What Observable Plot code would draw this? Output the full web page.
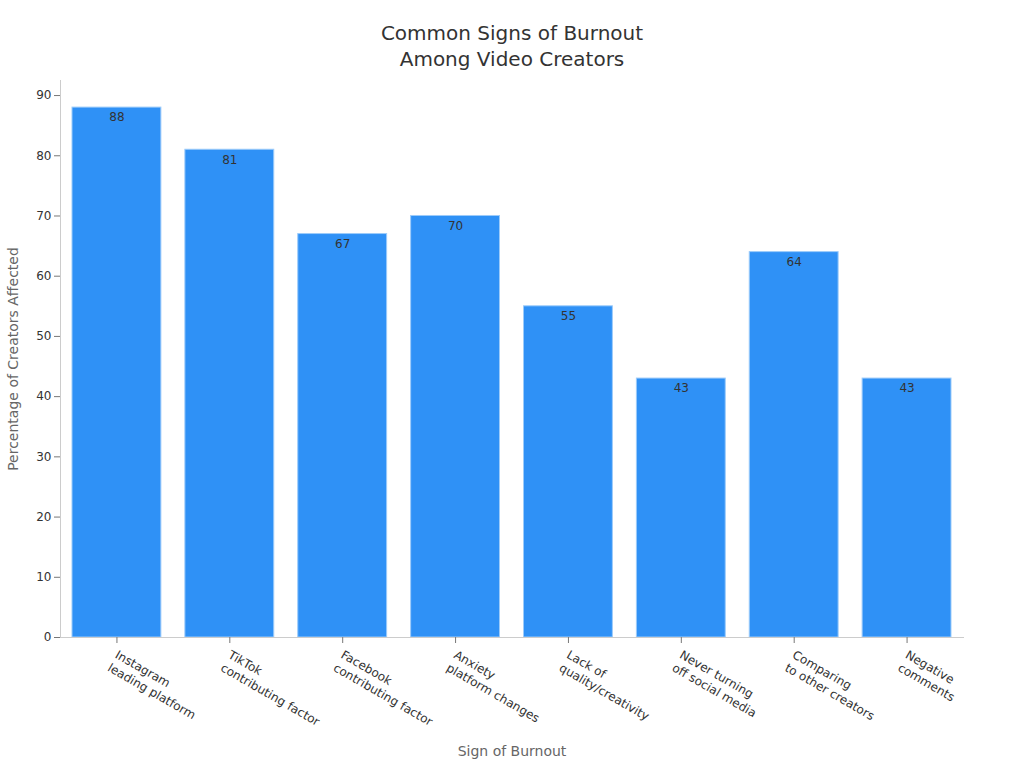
<!DOCTYPE html>
<html>
<head>
<meta charset="utf-8">
<script src="https://cdn.jsdelivr.net/npm/d3@7"></script>
<script src="https://cdn.jsdelivr.net/npm/@observablehq/plot@0.6"></script>
<style>
  html, body { margin: 0; padding: 0; background: #fff; }
  body { width: 1024px; height: 768px; overflow: hidden; font-family: "DejaVu Sans", sans-serif; }
  #title { height: 70px; box-sizing: border-box; padding-top: 20px; text-align: center; font-size: 20px; line-height: 26px; color: #333; }
</style>
</head>
<body>
<div id="title">Common Signs of Burnout<br>Among Video Creators</div>
<div id="chart"></div>
<script>
const categories = [
  "Instagram\nleading platform",
  "TikTok\ncontributing factor",
  "Facebook\ncontributing factor",
  "Anxiety\nplatform changes",
  "Lack of\nquality/creativity",
  "Never turning\noff social media",
  "Comparing\nto other creators",
  "Negative\ncomments"
];
const values = [88, 81, 67, 70, 55, 43, 64, 43];
const yTicks = [0, 10, 20, 30, 40, 50, 60, 70, 80, 90];

const data = categories.map((c, i) => ({category: c, value: values[i]}));

const chart = Plot.plot({
  width: 1024,
  height: 698,
  marginTop: 10,
  marginLeft: 60,
  marginRight: 61,
  marginBottom: 131,
  style: {fontFamily: "DejaVu Sans, sans-serif", fontSize: "12px", color: "#333", background: "#fff"},
  x: {domain: categories, paddingInner: 0, paddingOuter: 0, round: false},
  y: {domain: [0, 92.5]},
  marks: [
    Plot.barY(data, {x: "category", y: "value", fill: "#2f91f6", stroke: "#9ccbfa", strokeWidth: 1, insetLeft: 12, insetRight: 12}),
    Plot.text(data, {x: "category", y: "value", text: d => String(d.value), dy: 10, fill: "#333", fontSize: 12}),
    Plot.frame({anchor: "left", stroke: "#ccc"}),
    Plot.frame({anchor: "bottom", stroke: "#ccc"}),
    Plot.axisY({ticks: yTicks, tickSize: 6, stroke: "#777", fill: "#333", fontSize: 12,
      label: "Percentage of Creators Affected", labelAnchor: "center", labelArrow: "none", labelOffset: 52, tickPadding: 3}),
    Plot.axisX({tickSize: 6, stroke: "#777", tickFormat: () => "", label: null}),
    Plot.axisX({tickSize: 0, fill: "#333", fontSize: 12, tickRotate: 30, textAnchor: "start", tickPadding: 12,
      lineHeight: 1.25, dx: -4, dy: 10,
      label: "Sign of Burnout", labelAnchor: "center", labelArrow: "none", labelOffset: 118})
  ]
});
document.getElementById("chart").appendChild(chart);
chart.querySelectorAll("g[aria-label='y-axis label'] text, g[aria-label='x-axis label'] text").forEach(t => {
  t.setAttribute("fill", "#666");
  t.style.fontSize = "14px";
});
</script>
</body>
</html>
